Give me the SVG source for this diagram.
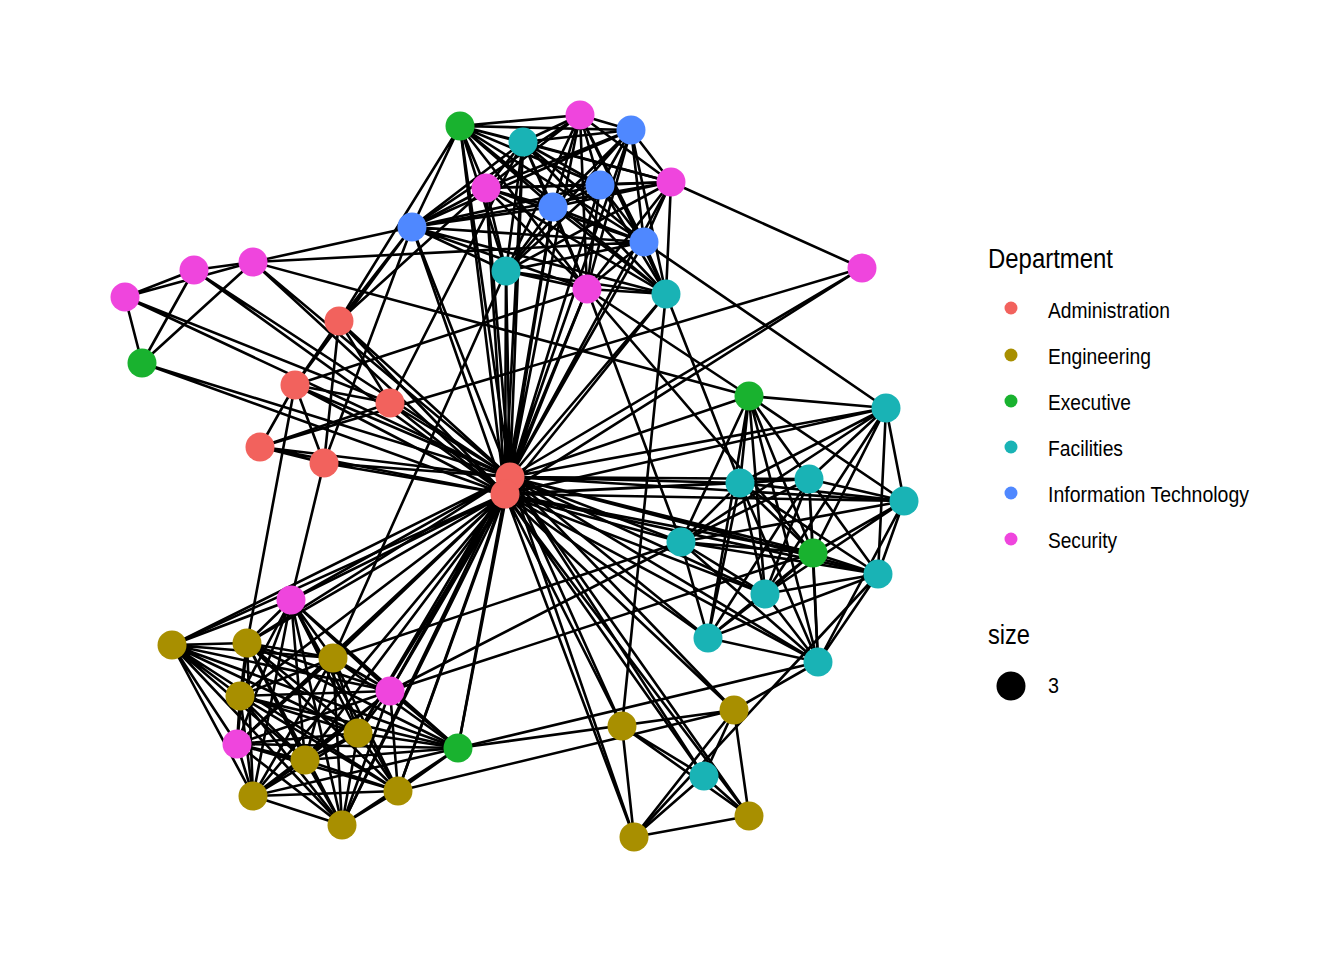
<svg xmlns="http://www.w3.org/2000/svg" width="1344" height="960" viewBox="0 0 1344 960">
<style>
.e{fill:none;stroke:#000;stroke-width:2.6;stroke-linecap:round}
.n{stroke:none}
.adm{fill:#f2625d}.eng{fill:#a88f00}.exe{fill:#19b22f}.fac{fill:#19b3b5}.it{fill:#4f88ff}.sec{fill:#ef45dd}
.t{font-family:"Liberation Sans",Arial,sans-serif;fill:#000}
.lt{font-size:22px}.hd{font-size:27px}
</style>
<rect width="1344" height="960" fill="#fff"/>
<g id="edges">
<path class="e" d="M460 126L523 142M460 126L580 115M460 126L631 130M460 126L486 188M460 126L600 185M460 126L553 207M460 126L671 182M460 126L412 227M460 126L644 242M460 126L506 271M460 126L587 289M460 126L666 294M460 126L339 321"/>
<path class="e" d="M523 142L580 115M523 142L631 130M523 142L486 188M523 142L600 185M523 142L553 207M523 142L671 182M523 142L412 227M523 142L644 242M523 142L506 271M523 142L587 289M523 142L666 294M523 142L390 403"/>
<path class="e" d="M580 115L631 130M580 115L486 188M580 115L600 185M580 115L553 207M580 115L671 182M580 115L412 227M580 115L644 242M580 115L506 271M580 115L587 289M580 115L666 294"/>
<path class="e" d="M631 130L486 188M631 130L600 185M631 130L553 207M631 130L671 182M631 130L412 227M631 130L644 242M631 130L506 271M631 130L587 289M631 130L666 294"/>
<path class="e" d="M486 188L600 185M486 188L553 207M486 188L671 182M486 188L412 227M486 188L644 242M486 188L506 271M486 188L587 289M486 188L666 294"/>
<path class="e" d="M600 185L553 207M600 185L671 182M600 185L412 227M600 185L644 242M600 185L506 271M600 185L587 289M600 185L666 294"/>
<path class="e" d="M553 207L671 182M553 207L412 227M553 207L644 242M553 207L506 271M553 207L587 289M553 207L666 294"/>
<path class="e" d="M671 182L412 227M671 182L644 242M671 182L506 271M671 182L587 289M671 182L666 294M671 182L862 268"/>
<path class="e" d="M412 227L644 242M412 227L506 271M412 227L587 289M412 227L666 294M412 227L253 262M412 227L339 321M412 227L324 463M412 227L295 385"/>
<path class="e" d="M644 242L506 271M644 242L587 289M644 242L666 294M644 242L886 408M644 242L253 262"/>
<path class="e" d="M506 271L587 289M506 271L666 294M506 271L333 658"/>
<path class="e" d="M587 289L666 294M587 289L749 396M587 289L681 542M587 289L295 385M587 289L813 553"/>
<path class="e" d="M666 294L740 483M666 294L622 726"/>
<path class="e" d="M125 297L194 270M125 297L253 262M125 297L142 363M125 297L390 403M125 297L510 477"/>
<path class="e" d="M194 270L253 262M194 270L142 363M194 270L510 477M194 270L505 494"/>
<path class="e" d="M253 262L142 363M253 262L749 396M253 262L510 477M253 262L505 494"/>
<path class="e" d="M142 363L510 477M142 363L505 494"/>
<path class="e" d="M339 321L295 385M339 321L390 403M339 321L324 463M339 321L486 188M339 321L510 477M339 321L505 494"/>
<path class="e" d="M295 385L260 447M295 385L324 463M295 385L390 403M295 385L247 643M295 385L510 477M295 385L505 494"/>
<path class="e" d="M390 403L260 447M390 403L510 477M390 403L505 494"/>
<path class="e" d="M260 447L324 463M260 447L862 268M260 447L510 477M260 447L505 494"/>
<path class="e" d="M324 463L291 600M324 463L510 477M324 463L505 494"/>
<path class="e" d="M510 477L460 126M510 477L523 142M510 477L580 115M510 477L631 130M510 477L486 188M510 477L600 185M510 477L553 207M510 477L671 182M510 477L412 227M510 477L644 242M510 477L506 271M510 477L587 289M510 477L666 294M510 477L862 268M510 477L505 494"/>
<path class="e" d="M510 477L749 396M510 477L886 408M510 477L740 483M510 477L809 479M510 477L904 501M510 477L681 542M510 477L813 553M510 477L878 574M510 477L765 594M510 477L708 638M510 477L818 662"/>
<path class="e" d="M510 477L622 726M510 477L704 776M510 477L749 816M510 477L634 837M510 477L734 710M510 477L291 600M510 477L172 645M510 477L247 643M510 477L390 691M510 477L358 733M510 477L458 748M510 477L398 791M510 477L342 825"/>
<path class="e" d="M505 494L460 126M505 494L506 271M505 494L587 289M505 494L553 207M505 494L666 294M505 494L862 268M505 494L523 142M505 494L486 188M505 494L412 227"/>
<path class="e" d="M505 494L886 408M505 494L740 483M505 494L809 479M505 494L904 501M505 494L681 542M505 494L813 553M505 494L878 574M505 494L765 594M505 494L708 638M505 494L818 662"/>
<path class="e" d="M505 494L622 726M505 494L734 710M505 494L704 776M505 494L634 837M505 494L749 816M505 494L291 600M505 494L172 645M505 494L247 643M505 494L333 658M505 494L240 696M505 494L390 691M505 494L358 733M505 494L237 744M505 494L305 760M505 494L458 748M505 494L253 796M505 494L398 791M505 494L342 825"/>
<path class="e" d="M749 396L886 408M749 396L740 483M749 396L809 479M749 396L904 501M749 396L681 542M749 396L813 553M749 396L878 574M749 396L765 594M749 396L708 638M749 396L818 662"/>
<path class="e" d="M886 408L740 483M886 408L809 479M886 408L904 501M886 408L681 542M886 408L878 574M886 408L765 594M886 408L813 553"/>
<path class="e" d="M740 483L809 479M740 483L904 501M740 483L681 542M740 483L813 553M740 483L878 574M740 483L765 594M740 483L708 638M740 483L818 662"/>
<path class="e" d="M809 479L904 501M809 479L681 542M809 479L813 553M809 479L765 594M809 479L708 638M809 479L818 662"/>
<path class="e" d="M904 501L813 553M904 501L878 574M904 501L765 594M904 501L681 542M904 501L818 662"/>
<path class="e" d="M681 542L813 553M681 542L878 574M681 542L765 594M681 542L708 638M681 542L818 662"/>
<path class="e" d="M813 553L878 574M813 553L765 594M813 553L708 638M813 553L818 662"/>
<path class="e" d="M878 574L765 594M878 574L818 662M878 574L708 638M878 574L634 837"/>
<path class="e" d="M765 594L708 638M765 594L818 662M708 638L818 662"/>
<path class="e" d="M622 726L704 776M622 726L634 837M622 726L749 816"/>
<path class="e" d="M734 710L704 776M734 710L634 837M734 710L749 816M734 710L818 662M734 710L458 748M734 710L398 791"/>
<path class="e" d="M704 776L634 837M704 776L749 816M634 837L749 816M458 748L818 662"/>
<path class="e" d="M390 691L813 553M390 691L681 542M333 658L681 542"/>
<path class="e" d="M291 600L172 645M291 600L247 643M291 600L333 658M291 600L240 696M291 600L390 691M291 600L358 733M291 600L237 744M291 600L305 760M291 600L458 748M291 600L253 796M291 600L398 791M291 600L342 825"/>
<path class="e" d="M172 645L247 643M172 645L333 658M172 645L240 696M172 645L390 691M172 645L358 733M172 645L237 744M172 645L305 760M172 645L458 748M172 645L253 796M172 645L398 791M172 645L342 825"/>
<path class="e" d="M247 643L333 658M247 643L240 696M247 643L390 691M247 643L358 733M247 643L237 744M247 643L305 760M247 643L458 748M247 643L253 796M247 643L398 791M247 643L342 825"/>
<path class="e" d="M333 658L240 696M333 658L390 691M333 658L358 733M333 658L237 744M333 658L305 760M333 658L458 748M333 658L253 796M333 658L398 791M333 658L342 825"/>
<path class="e" d="M240 696L390 691M240 696L358 733M240 696L237 744M240 696L305 760M240 696L458 748M240 696L253 796M240 696L398 791M240 696L342 825"/>
<path class="e" d="M390 691L358 733M390 691L237 744M390 691L305 760M390 691L458 748M390 691L253 796M390 691L398 791M390 691L342 825"/>
<path class="e" d="M358 733L237 744M358 733L305 760M358 733L458 748M358 733L253 796M358 733L398 791M358 733L342 825"/>
<path class="e" d="M237 744L305 760M237 744L458 748M237 744L253 796M237 744L398 791M237 744L342 825"/>
<path class="e" d="M305 760L458 748M305 760L253 796M305 760L398 791M305 760L342 825"/>
<path class="e" d="M458 748L253 796M458 748L398 791M458 748L342 825M253 796L398 791M253 796L342 825M398 791L342 825"/>
</g>
<g id="nodes">
<g id="G1"><circle class="n exe" cx="460" cy="126" r="14.5"/></g>
<g id="F1"><circle class="n fac" cx="523" cy="142" r="14.5"/></g>
<g id="S1"><circle class="n sec" cx="580" cy="115" r="14.5"/></g>
<g id="I1"><circle class="n it" cx="631" cy="130" r="14.5"/></g>
<g id="S2"><circle class="n sec" cx="486" cy="188" r="14.5"/></g>
<g id="I2"><circle class="n it" cx="600" cy="185" r="14.5"/></g>
<g id="I3"><circle class="n it" cx="553" cy="207" r="14.5"/></g>
<g id="S3"><circle class="n sec" cx="671" cy="182" r="14.5"/></g>
<g id="I4"><circle class="n it" cx="412" cy="227" r="14.5"/></g>
<g id="I5"><circle class="n it" cx="644" cy="242" r="14.5"/></g>
<g id="F2"><circle class="n fac" cx="506" cy="271" r="14.5"/></g>
<g id="S4"><circle class="n sec" cx="587" cy="289" r="14.5"/></g>
<g id="F3"><circle class="n fac" cx="666" cy="294" r="14.5"/></g>
<g id="S5"><circle class="n sec" cx="862" cy="268" r="14.5"/></g>
<g id="S6"><circle class="n sec" cx="125" cy="297" r="14.5"/></g>
<g id="S7"><circle class="n sec" cx="194" cy="270" r="14.5"/></g>
<g id="S8"><circle class="n sec" cx="253" cy="262" r="14.5"/></g>
<g id="G2"><circle class="n exe" cx="142" cy="363" r="14.5"/></g>
<g id="A1"><circle class="n adm" cx="339" cy="321" r="14.5"/></g>
<g id="A2"><circle class="n adm" cx="295" cy="385" r="14.5"/></g>
<g id="A3"><circle class="n adm" cx="390" cy="403" r="14.5"/></g>
<g id="A4"><circle class="n adm" cx="260" cy="447" r="14.5"/></g>
<g id="A5"><circle class="n adm" cx="324" cy="463" r="14.5"/></g>
<g id="H1"><circle class="n adm" cx="510" cy="477" r="14.5"/></g>
<g id="H2"><circle class="n adm" cx="505" cy="494" r="14.5"/></g>
<g id="G3"><circle class="n exe" cx="749" cy="396" r="14.5"/></g>
<g id="F4"><circle class="n fac" cx="886" cy="408" r="14.5"/></g>
<g id="F5"><circle class="n fac" cx="740" cy="483" r="14.5"/></g>
<g id="F6"><circle class="n fac" cx="809" cy="479" r="14.5"/></g>
<g id="F7"><circle class="n fac" cx="904" cy="501" r="14.5"/></g>
<g id="F8"><circle class="n fac" cx="681" cy="542" r="14.5"/></g>
<g id="G4"><circle class="n exe" cx="813" cy="553" r="14.5"/></g>
<g id="F9"><circle class="n fac" cx="878" cy="574" r="14.5"/></g>
<g id="F10"><circle class="n fac" cx="765" cy="594" r="14.5"/></g>
<g id="F11"><circle class="n fac" cx="708" cy="638" r="14.5"/></g>
<g id="F12"><circle class="n fac" cx="818" cy="662" r="14.5"/></g>
<g id="E1"><circle class="n eng" cx="622" cy="726" r="14.5"/></g>
<g id="E2"><circle class="n eng" cx="734" cy="710" r="14.5"/></g>
<g id="F13"><circle class="n fac" cx="704" cy="776" r="14.5"/></g>
<g id="E3"><circle class="n eng" cx="634" cy="837" r="14.5"/></g>
<g id="E4"><circle class="n eng" cx="749" cy="816" r="14.5"/></g>
<g id="S9"><circle class="n sec" cx="291" cy="600" r="14.5"/></g>
<g id="E5"><circle class="n eng" cx="172" cy="645" r="14.5"/></g>
<g id="E6"><circle class="n eng" cx="247" cy="643" r="14.5"/></g>
<g id="E7"><circle class="n eng" cx="333" cy="658" r="14.5"/></g>
<g id="E8"><circle class="n eng" cx="240" cy="696" r="14.5"/></g>
<g id="S10"><circle class="n sec" cx="390" cy="691" r="14.5"/></g>
<g id="E9"><circle class="n eng" cx="358" cy="733" r="14.5"/></g>
<g id="S11"><circle class="n sec" cx="237" cy="744" r="14.5"/></g>
<g id="E10"><circle class="n eng" cx="305" cy="760" r="14.5"/></g>
<g id="G5"><circle class="n exe" cx="458" cy="748" r="14.5"/></g>
<g id="E11"><circle class="n eng" cx="253" cy="796" r="14.5"/></g>
<g id="E12"><circle class="n eng" cx="398" cy="791" r="14.5"/></g>
<g id="E13"><circle class="n eng" cx="342" cy="825" r="14.5"/></g>
</g>
<g id="legend">
<text class="t hd" x="988" y="268" textLength="125" lengthAdjust="spacingAndGlyphs">Department</text>
<circle class="adm" cx="1011" cy="308" r="6.5"/>
<text class="t lt" x="1048" y="318" textLength="122" lengthAdjust="spacingAndGlyphs">Administration</text>
<circle class="eng" cx="1011" cy="355" r="6.5"/>
<text class="t lt" x="1048" y="364" textLength="103" lengthAdjust="spacingAndGlyphs">Engineering</text>
<circle class="exe" cx="1011" cy="401" r="6.5"/>
<text class="t lt" x="1048" y="410" textLength="83" lengthAdjust="spacingAndGlyphs">Executive</text>
<circle class="fac" cx="1011" cy="447" r="6.5"/>
<text class="t lt" x="1048" y="456" textLength="75" lengthAdjust="spacingAndGlyphs">Facilities</text>
<circle class="it" cx="1011" cy="493" r="6.5"/>
<text class="t lt" x="1048" y="502" textLength="201" lengthAdjust="spacingAndGlyphs">Information Technology</text>
<circle class="sec" cx="1011" cy="539" r="6.5"/>
<text class="t lt" x="1048" y="548" textLength="69" lengthAdjust="spacingAndGlyphs">Security</text>
<text class="t hd" x="988" y="644" textLength="42" lengthAdjust="spacingAndGlyphs">size</text>
<circle cx="1011" cy="686" r="14.5" fill="#000"/>
<text class="t lt" x="1048" y="693" textLength="11" lengthAdjust="spacingAndGlyphs">3</text>
</g>
</svg>
